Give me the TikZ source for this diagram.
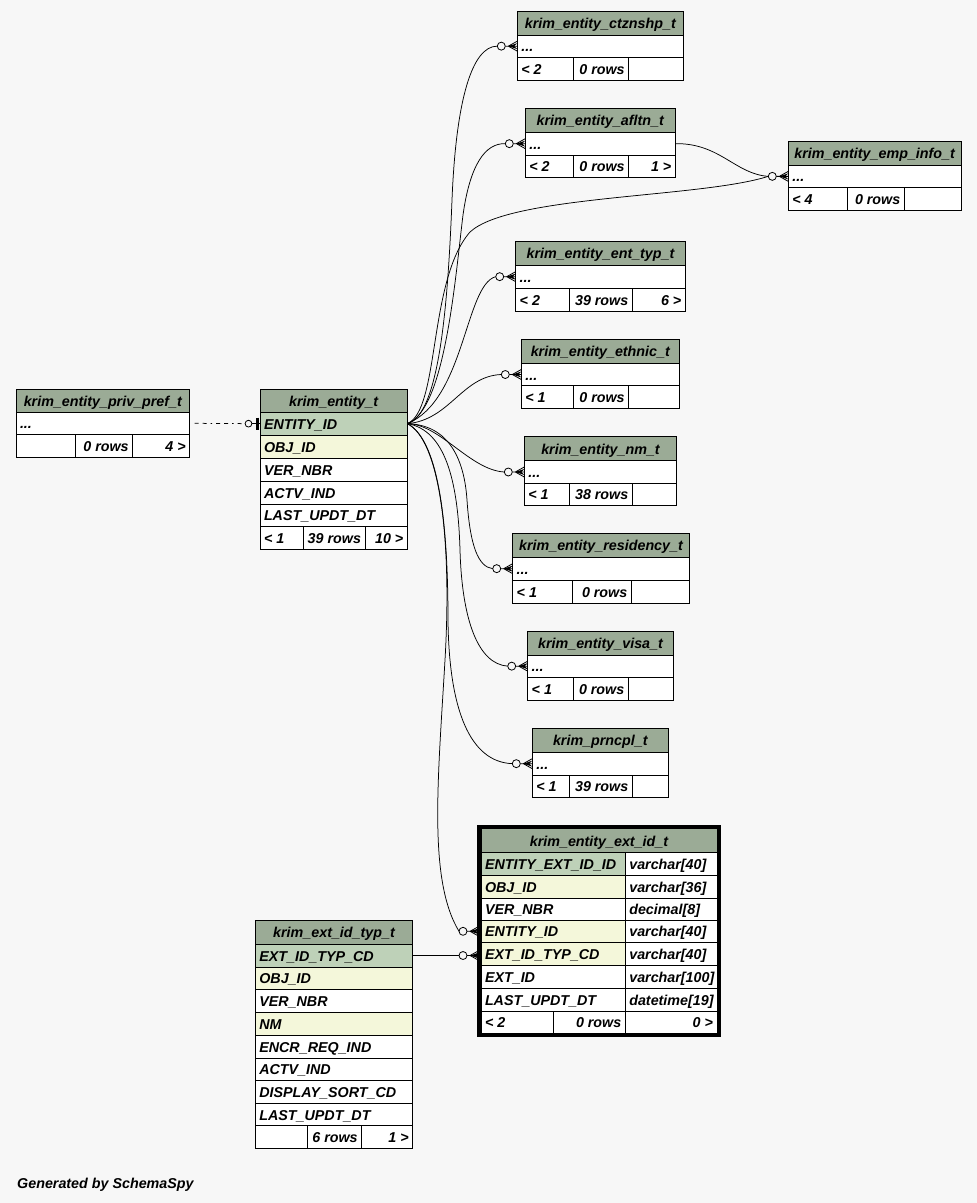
\documentclass[tikz,border=0pt]{standalone}
\usepackage{fontspec}
\setmainfont{Liberation Sans}
\usetikzlibrary{calc}
\definecolor{bgc}{HTML}{F7F7F7}
\definecolor{hdr}{HTML}{9BAB96}
\definecolor{pkc}{HTML}{BED1B8}
\definecolor{idx}{HTML}{F4F7DA}
\newcommand{\rsfont}{\bfseries\itshape\fontsize{14.3}{16}\selectfont}
\tikzset{
 cell/.style={draw=black, line width=1pt, rectangle, anchor=north west, inner xsep=4pt, inner ysep=0pt, outer sep=0pt, text height=11pt, text depth=0pt, font=\rsfont},
 rel/.style={draw=black, line width=0.75pt},
 crowo/.pic={
   \draw[line width=0.8pt] (-16,0) circle[radius=4pt];
   \draw[line width=0.8pt] (-12,0) -- (0,0) (-9,0) -- (0,-5) (-9,0) -- (0,5);
   \fill (-9,0) -- (0,-3) -- (-3,0) -- (0,3) -- cycle;
 },
 zeroone/.pic={
   \draw[line width=0.8pt] (-11.5,0) circle[radius=3.4pt];
   \draw[line width=0.8pt] (-8.1,0) -- (0,0);
   \draw[line width=3pt] (-2.5,-6) -- (-2.5,6);
 }
}
% name, x1, y1, x2, y2, fill, align letter (l/c/r), text
\newcommand{\rscel}[8]{%
  \pgfmathsetmacro{\rsCW}{#4-#2}%
  \pgfmathsetmacro{\rsCH}{#5-#3}%
  \pgfmathsetmacro{\rsTW}{#4-#2-8}%
  \node[cell, fill=#6, minimum width=\rsCW pt, minimum height=\rsCH pt] (#1) at (#2,#3) {\makebox[\rsTW pt][#7]{#8}};}
% small table: prefix, x1, x2, ytop, yh, yr, yf, c1, c2
\newcommand{\rssmall}[9]{%
  \rscel{#1-r}{#2}{#5}{#3}{#6}{white}{l}{...}%
  \rscel{#1-f1}{#2}{#6}{#8}{#7}{white}{l}{\rsA}%
  \rscel{#1-f2}{#8}{#6}{#9}{#7}{white}{r}{\rsB}%
  \rscel{#1-f3}{#9}{#6}{#3}{#7}{white}{r}{\rsC}%
  \rscel{#1-h}{#2}{#4}{#3}{#5}{hdr}{c}{\rsN}}
\newcommand{\rsset}[4]{\def\rsN{#1}\def\rsA{#2}\def\rsB{#3}\def\rsC{#4}}
\begin{document}
\begin{tikzpicture}[x=1pt,y=-1pt]
\fill[bgc] (0,0) rectangle (977,1203);
\useasboundingbox (0,0) rectangle (977,1203);

% ---- small tables
\rsset{krim\_entity\_ctznshp\_t}{< 2}{0 rows}{}
\rssmall{ctz}{517.3}{683.3}{11.7}{35}{57.3}{80}{573.3}{628.7}
\rsset{krim\_entity\_afltn\_t}{< 2}{0 rows}{1 >}
\rssmall{afl}{525.3}{675.3}{108.3}{132.3}{155}{177}{573.3}{628.7}
\rsset{krim\_entity\_emp\_info\_t}{< 4}{0 rows}{}
\rssmall{emp}{788.3}{961}{141.7}{165}{187.7}{210.7}{847.3}{904.3}
\rsset{krim\_entity\_ent\_typ\_t}{< 2}{39 rows}{6 >}
\rssmall{ety}{515.7}{685.3}{241.7}{265}{288.3}{311}{569.3}{632.3}
\rsset{krim\_entity\_ethnic\_t}{< 1}{0 rows}{}
\rssmall{eth}{521.3}{679.3}{339.3}{363.3}{385.7}{408.3}{573.3}{628.7}
\rsset{krim\_entity\_nm\_t}{< 1}{38 rows}{}
\rssmall{nm}{524.3}{676.7}{436.7}{460.7}{483.3}{505.3}{569.3}{632.3}
\rsset{krim\_entity\_residency\_t}{< 1}{0 rows}{}
\rssmall{res}{512.7}{689.3}{533.3}{557.3}{580}{603.3}{572.3}{631.3}
\rsset{krim\_entity\_visa\_t}{< 1}{0 rows}{}
\rssmall{vis}{527.7}{673.3}{631.7}{655}{677.3}{700.3}{573.3}{628.3}
\rsset{krim\_prncpl\_t}{< 1}{39 rows}{}
\rssmall{prn}{532.3}{668.3}{728.3}{752.3}{775}{797.3}{569.3}{632.3}
\rsset{krim\_entity\_priv\_pref\_t}{}{0 rows}{4 >}
\rssmall{pp}{16}{189.7}{389}{412.3}{434.3}{457.3}{75.7}{132.7}

% ---- krim_entity_t
\rscel{ent-pk}{260}{412.3}{407.3}{435}{pkc}{l}{ENTITY\_ID}
\rscel{ent-obj}{260}{435}{407.3}{458.5}{idx}{l}{OBJ\_ID}
\rscel{ent-ver}{260}{458.5}{407.3}{481}{white}{l}{VER\_NBR}
\rscel{ent-act}{260}{481}{407.3}{504}{white}{l}{ACTV\_IND}
\rscel{ent-last}{260}{504}{407.3}{526.7}{white}{l}{LAST\_UPDT\_DT}
\rscel{ent-f1}{260}{526.7}{303.3}{549.3}{white}{l}{< 1}
\rscel{ent-f2}{303.3}{526.7}{365}{549.3}{white}{r}{39 rows}
\rscel{ent-f3}{365}{526.7}{407.3}{549.3}{white}{r}{10 >}
\rscel{ent-h}{260}{389}{407.3}{412.3}{hdr}{c}{krim\_entity\_t}

% ---- krim_ext_id_typ_t
\rscel{typ-pk}{255.3}{944}{412.7}{967}{pkc}{l}{EXT\_ID\_TYP\_CD}
\rscel{typ-obj}{255.3}{967}{412.7}{989.5}{idx}{l}{OBJ\_ID}
\rscel{typ-ver}{255.3}{989.5}{412.7}{1012.3}{white}{l}{VER\_NBR}
\rscel{typ-nm}{255.3}{1012.3}{412.7}{1035.3}{idx}{l}{NM}
\rscel{typ-encr}{255.3}{1035.3}{412.7}{1058}{white}{l}{ENCR\_REQ\_IND}
\rscel{typ-act}{255.3}{1058}{412.7}{1080.7}{white}{l}{ACTV\_IND}
\rscel{typ-disp}{255.3}{1080.7}{412.7}{1103.3}{white}{l}{DISPLAY\_SORT\_CD}
\rscel{typ-last}{255.3}{1103.3}{412.7}{1125.7}{white}{l}{LAST\_UPDT\_DT}
\rscel{typ-f1}{255.3}{1125.7}{307.3}{1148}{white}{l}{}
\rscel{typ-f2}{307.3}{1125.7}{361.7}{1148}{white}{r}{6 rows}
\rscel{typ-f3}{361.7}{1125.7}{412.7}{1148}{white}{r}{1 >}
\rscel{typ-h}{255.3}{920.7}{412.7}{944}{hdr}{c}{krim\_ext\_id\_typ\_t}

% ---- krim_entity_ext_id_t
\rscel{ext-c1}{481}{852.7}{625.3}{875}{pkc}{l}{ENTITY\_EXT\_ID\_ID}
\rscel{ext-t1}{625.3}{852.7}{717}{875}{white}{l}{varchar[40]}
\rscel{ext-c2}{481}{875}{625.3}{898}{idx}{l}{OBJ\_ID}
\rscel{ext-t2}{625.3}{875}{717}{898}{white}{l}{varchar[36]}
\rscel{ext-c3}{481}{898}{625.3}{920}{white}{l}{VER\_NBR}
\rscel{ext-t3}{625.3}{898}{717}{920}{white}{l}{decimal[8]}
\rscel{ext-c4}{481}{920}{625.3}{942.7}{idx}{l}{ENTITY\_ID}
\rscel{ext-t4}{625.3}{920}{717}{942.7}{white}{l}{varchar[40]}
\rscel{ext-c5}{481}{942.7}{625.3}{965.7}{idx}{l}{EXT\_ID\_TYP\_CD}
\rscel{ext-t5}{625.3}{942.7}{717}{965.7}{white}{l}{varchar[40]}
\rscel{ext-c6}{481}{965.7}{625.3}{988.3}{white}{l}{EXT\_ID}
\rscel{ext-t6}{625.3}{965.7}{717}{988.3}{white}{l}{varchar[100]}
\rscel{ext-c7}{481}{988.3}{625.3}{1011}{white}{l}{LAST\_UPDT\_DT}
\rscel{ext-t7}{625.3}{988.3}{717}{1011}{white}{l}{datetime[19]}
\rscel{ext-f1}{481}{1011}{553.3}{1033.3}{white}{l}{< 2}
\rscel{ext-f2}{553.3}{1011}{625.3}{1033.3}{white}{r}{0 rows}
\rscel{ext-f3}{625.3}{1011}{717}{1033.3}{white}{r}{0 >}
\rscel{ext-h}{481}{828.7}{717}{852.7}{hdr}{c}{krim\_entity\_ext\_id\_t}
\draw[line width=4pt] (479,826.7) rectangle (719,1035.3);
\coordinate (ext-in4) at (479,931.3);
\coordinate (ext-in5) at (479,955.5);

% ---- connectors from krim_entity_t.ENTITY_ID
\draw[rel] (ent-pk.east) .. controls (440,415) and (448,300) .. (452,200)
   .. controls (456,100) and (472,46) .. ($(ctz-r.west)+(-20,0)$);
\draw[rel] (ent-pk.east) .. controls (445,410) and (455,280) .. (463,215)
   .. controls (470,165) and (485,143) .. ($(afl-r.west)+(-20,0)$);
\draw[rel] (ent-pk.east) .. controls (440,410) and (428,280) .. (470,232)
   .. controls (510,195) and (700,198) .. ($(emp-r.west)+(-20,0)$);
\draw[rel] (afl-r.east) .. controls (720,143) and (735,174) .. ($(emp-r.west)+(-20,0)$);
\draw[rel] (ent-pk.east) .. controls (465,400) and (465,285) .. ($(ety-r.west)+(-20,0)$);
\draw[rel] (ent-pk.east) .. controls (450,420) and (462,376) .. ($(eth-r.west)+(-20,0)$);
\draw[rel] (ent-pk.east) .. controls (440,424) and (470,470) .. ($(nm-r.west)+(-20,0)$);
\draw[rel] (ent-pk.east) .. controls (455,425) and (465,470) .. (467,500)
   .. controls (470,545) and (478,567) .. ($(res-r.west)+(-20,0)$);
\draw[rel] (ent-pk.east) .. controls (445,430) and (458,480) .. (460,550)
   .. controls (462,620) and (478,664) .. ($(vis-r.west)+(-20,0)$);
\draw[rel] (ent-pk.east) .. controls (440,440) and (448,530) .. (448,620)
   .. controls (449,710) and (470,762) .. ($(prn-r.west)+(-20,0)$);
\draw[rel] (ent-pk.east) .. controls (440,440) and (452,540) .. (445,660)
   .. controls (438,780) and (428,880) .. ($(ext-in4)+(-20,0)$);
\draw[rel] (typ-pk.east) -- ($(ext-in5)+(-20,0)$);
\draw[rel, dash pattern=on 4pt off 4pt on 4pt off 4pt on 1.5pt off 4pt] ($(pp-r.east)+(5,0)$) -- ($(ent-pk.west)+(-15,0)$);

% ---- end markers
\foreach \t in {ctz,afl,emp,ety,eth,nm,res,vis,prn} { \pic at (\t-r.west) {crowo}; }
\pic at (ext-in4) {crowo};
\pic at (ext-in5) {crowo};
\pic at (ent-pk.west) {zeroone};

\node[anchor=base west, inner sep=0pt, font=\rsfont] (gen) at (17,1188) {Generated by SchemaSpy};
\end{tikzpicture}
\end{document}
